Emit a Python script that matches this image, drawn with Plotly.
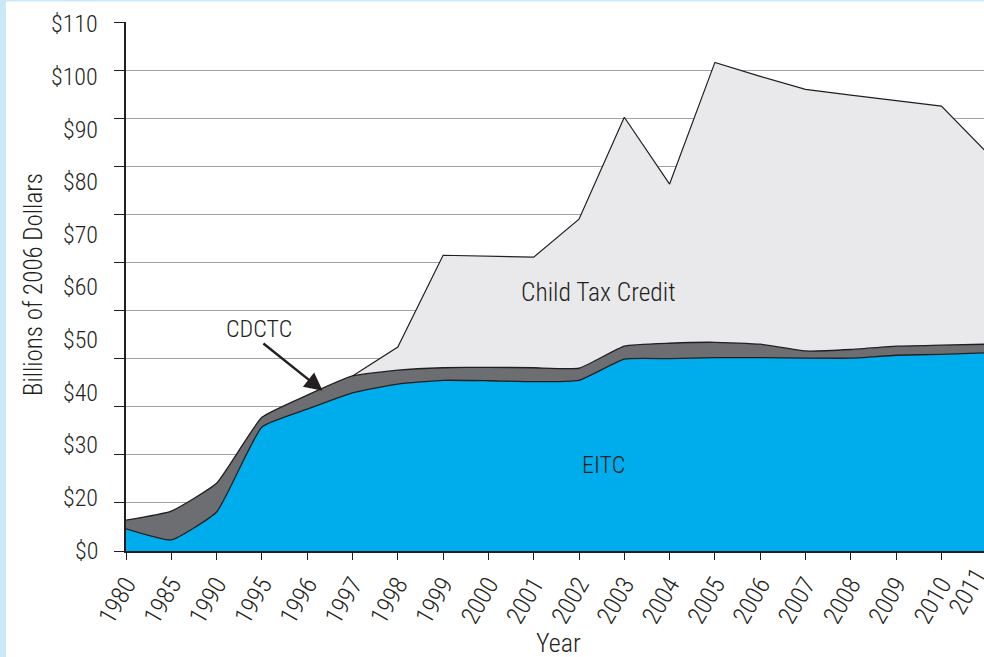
import numpy as np
import plotly.graph_objects as go

# Fiscal years shown on the category axis
years = ["1980", "1985", "1990", "1995", "1996", "1997", "1998", "1999", "2000",
         "2001", "2002", "2003", "2004", "2005", "2006", "2007", "2008", "2009",
         "2010", "2011"]

# Program costs, billions of 2006 dollars
eitc = [4.6, 2.3, 8.1, 25.8, 29.5, 32.9, 34.7, 35.5, 35.4, 35.2, 35.5, 39.9,
        40.0, 40.2, 40.2, 40.1, 40.1, 40.7, 40.9, 41.2]
cdctc = [1.8, 6.0, 6.0, 2.0, 2.9, 3.5, 2.9, 2.6, 2.8, 2.9, 2.5, 2.7, 3.2, 3.2,
         2.8, 1.5, 1.8, 1.9, 1.9, 1.8]
child_credit = [0, 0, 0, 0, 0, 0, 4.8, 23.4, 23.1, 23.0, 31.0, 47.6, 33.1,
                58.2, 55.7, 54.4, 52.9, 51.0, 49.7, 39.9]
ctc_start = years.index("1997")

# Y-axis tick labels (the $10 label is not printed)
y_labels = ["$0", "$20", "$30", "$40", "$50", "$60", "$70", "$80", "$90",
            "$100", "$110"]
grid_vals = list(range(0, 111, 10))

# ---- geometry --------------------------------------------------------------
W, H = 984, 657
ML, MT, MB = 126, 22, 106
plot_w = W - ML
plot_h = H - MT - MB
step_px = 45.3
x_max = plot_w / step_px

INK = "#231f20"
FONT = "Roboto Condensed, DejaVu Sans Condensed, Liberation Sans, Arial, sans-serif"
WEIGHT = 300
TICK_ANGLE = -60


def font(size):
    return dict(family=FONT, size=size, color=INK, weight=WEIGHT)


x = np.arange(len(years))
eitc_a = np.array(eitc)
cdctc_top = eitc_a + np.array(cdctc)
total_top = cdctc_top + np.array(child_credit)


def paper_x(px):
    return (px - ML) / plot_w


def paper_y(py):
    return (H - MB - py) / plot_h


fig = go.Figure()

fig.add_trace(go.Scatter(
    x=x[ctc_start:], y=total_top[ctc_start:], mode="lines",
    fill="tozeroy", fillcolor="#e9e9eb",
    line=dict(color=INK, width=1.2), hoverinfo="skip", showlegend=False))

fig.add_trace(go.Scatter(
    x=x, y=cdctc_top, mode="lines", fill="tozeroy", fillcolor="#6d6e71",
    line=dict(color=INK, width=1.3, shape="spline", smoothing=0.4),
    hoverinfo="skip", showlegend=False))

fig.add_trace(go.Scatter(
    x=x, y=eitc_a, mode="lines", fill="tozeroy", fillcolor="#00adec",
    line=dict(color=INK, width=1.3, shape="spline", smoothing=0.4),
    hoverinfo="skip", showlegend=False))

annotations = []

# y tick labels spread evenly from bottom to top of the grid
label_pos = np.linspace(0.1, 109.5, len(y_labels))
for val, txt in zip(label_pos, y_labels):
    annotations.append(dict(
        x=0, xref="paper", y=val, yref="y", text=txt, showarrow=False,
        xanchor="right", yanchor="middle", xshift=-26, font=font(24)))

# last year label sits at the clipped right edge
annotations.append(dict(
    x=(len(years) - 1) / x_max, xref="paper", y=0, yref="paper",
    text=years[-1], showarrow=False, textangle=TICK_ANGLE,
    xanchor="right", yanchor="top", yshift=-9, xshift=8, font=font(25)))

# axis titles
annotations.append(dict(
    x=paper_x(33), xref="paper", y=paper_y(285), yref="paper",
    text="Billions of 2006 Dollars", showarrow=False, textangle=-90,
    xanchor="center", yanchor="middle", font=font(25)))
annotations.append(dict(
    x=paper_x(558), xref="paper", y=paper_y(643), yref="paper",
    text="Year", showarrow=False, xanchor="center", yanchor="middle",
    font=font(26)))

# series labels
annotations.append(dict(
    x=10.43, y=53.9, text="Child Tax Credit", showarrow=False, font=font(25.5)))
annotations.append(dict(
    x=10.53, y=17.9, text="EITC", showarrow=False, font=font(24)))
annotations.append(dict(
    x=2.93, y=46.2, text="CDCTC", showarrow=False, font=font(24)))
annotations.append(dict(
    x=4.34, y=33.3, ax=3.0, ay=43.4, axref="x", ayref="y", text="",
    showarrow=True, arrowhead=2, arrowsize=1.5, arrowwidth=2.4,
    arrowcolor=INK))

# light blue page frame on the left and top edges
frame = "#c9e9f9"
shapes = [
    dict(type="rect", xref="paper", yref="paper",
         x0=paper_x(0), x1=paper_x(6), y0=paper_y(H), y1=paper_y(0),
         fillcolor=frame, line=dict(width=0), layer="above"),
    dict(type="rect", xref="paper", yref="paper",
         x0=paper_x(0), x1=paper_x(W), y0=paper_y(1.5), y1=paper_y(0),
         fillcolor=frame, line=dict(width=0), layer="above"),
]

fig.update_layout(
    width=W, height=H,
    margin=dict(l=ML, r=0, t=MT, b=MB, pad=0),
    paper_bgcolor="white", plot_bgcolor="white",
    showlegend=False,
    annotations=annotations, shapes=shapes,
    font=font(22),
    xaxis=dict(
        range=[0, x_max], tickmode="array", tickvals=x[:-1],
        ticktext=years[:-1], tickangle=TICK_ANGLE, ticks="outside", ticklen=7,
        tickwidth=1.3, tickcolor=INK, showgrid=False, zeroline=False,
        showline=True, linecolor=INK, linewidth=2,
        tickfont=font(25), fixedrange=True),
    yaxis=dict(
        range=[0, 110], tickmode="array", tickvals=grid_vals,
        showticklabels=False, ticks="outside", ticklen=10, tickwidth=1.3,
        tickcolor=INK, showgrid=True, gridcolor="#a3a3a3", gridwidth=1.3,
        zeroline=False, showline=True, linecolor=INK, linewidth=1.5,
        fixedrange=True),
)

fig.write_html("out.html")
